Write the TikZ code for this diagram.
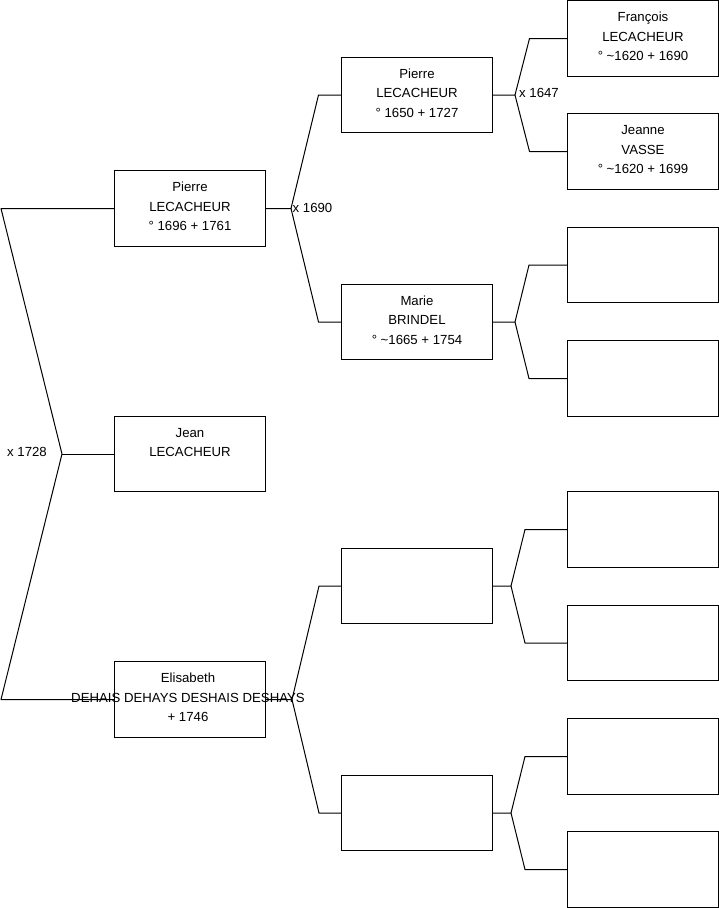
\documentclass[tikz,border=0pt]{standalone}
\usepackage{fontspec}
\setmainfont{Liberation Sans}
\begin{document}
\begin{tikzpicture}[x=1pt,y=-1pt,
  box/.style={draw=black, line width=1pt, minimum width=151pt, minimum height=75.5pt, inner sep=0pt, anchor=west},
  txt/.style={anchor=north, inner sep=0pt, align=center, font=\fontsize{13.2}{19.5}\selectfont},
  link/.style={draw=black, line width=1pt, line join=round},
  lbl/.style={inner sep=0pt, font=\fontsize{13.2}{19.5}\selectfont}]
\useasboundingbox (0,0) rectangle (719,908);
% column 1
\node[box] (P1) at (114,208.5) {};
\node[box] (J) at (114,454) {};
\node[box] (E) at (114,699.5) {};
% column 2
\node[box] (P2) at (341,95) {};
\node[box] (M) at (341,322) {};
\node[box] (B1) at (341,586) {};
\node[box] (B2) at (341,813) {};
% column 3
\node[box] (F) at (567,38.5) {};
\node[box] (JV) at (567,151.5) {};
\node[box] (C3) at (567,265) {};
\node[box] (C4) at (567,378.5) {};
\node[box] (C5) at (567,529.5) {};
\node[box] (C6) at (567,643) {};
\node[box] (C7) at (567,756.5) {};
\node[box] (C8) at (567,869.5) {};
% texts
\node[txt] (tP1) at ([yshift=-7.6pt]P1.north) {\strut Pierre\\LECACHEUR\\° 1696 + 1761};
\node[txt] (tJ) at ([yshift=-7.6pt]J.north) {\strut Jean\\LECACHEUR};
\node[txt] (tE) at ([xshift=-2pt,yshift=-7.6pt]E.north) {\strut Elisabeth\\DEHAIS DEHAYS DESHAIS DESHAYS\\+ 1746};
\node[txt] (tP2) at ([yshift=-7.6pt]P2.north) {\strut Pierre\\LECACHEUR\\° 1650 + 1727};
\node[txt] (tM) at ([yshift=-7.6pt]M.north) {\strut Marie\\BRINDEL\\° \textasciitilde1665 + 1754};
\node[txt] (tF) at ([yshift=-7.6pt]F.north) {\strut François\\LECACHEUR\\° \textasciitilde1620 + 1690};
\node[txt] (tJV) at ([yshift=-7.6pt]JV.north) {\strut Jeanne\\VASSE\\° \textasciitilde1620 + 1699};
% fork points
\coordinate (v0) at (62,454);
\coordinate (r1) at (1,208.5);
\coordinate (r2) at (1,699.5);
\coordinate (v1) at (291,208.5);
\coordinate (a1) at (318.5,95);
\coordinate (b1) at (318.5,322);
\coordinate (v2) at (292,699.5);
\coordinate (a2) at (319,586);
\coordinate (b2) at (319,813);
\coordinate (v3) at (515,95);
\coordinate (a3) at (529.5,38.5);
\coordinate (b3) at (529.5,151.5);
\coordinate (v4) at (515,322);
\coordinate (a4) at (529,265);
\coordinate (b4) at (529,378.5);
\coordinate (v5) at (511,586);
\coordinate (a5) at (525,529.5);
\coordinate (b5) at (525,643);
\coordinate (v6) at (511,813);
\coordinate (a6) at (525,756.5);
\coordinate (b6) at (525,869.5);
% connectors
\draw[link] (P1.west) -- (r1) -- (v0) -- (r2) -- (E.west);
\draw[link] (v0) -- (J.west);
\draw[link] (P1.east) -- (v1) -- (a1) -- (P2.west);
\draw[link] (v1) -- (b1) -- (M.west);
\draw[link] (E.east) -- (v2) -- (a2) -- (B1.west);
\draw[link] (v2) -- (b2) -- (B2.west);
\draw[link] (P2.east) -- (v3) -- (a3) -- (F.west);
\draw[link] (v3) -- (b3) -- (JV.west);
\draw[link] (M.east) -- (v4) -- (a4) -- (C3.west);
\draw[link] (v4) -- (b4) -- (C4.west);
\draw[link] (B1.east) -- (v5) -- (a5) -- (C5.west);
\draw[link] (v5) -- (b5) -- (C6.west);
\draw[link] (B2.east) -- (v6) -- (a6) -- (C7.west);
\draw[link] (v6) -- (b6) -- (C8.west);
% marriage labels
\node[lbl] (m1728) at (27,452) {x 1728};
\node[lbl, anchor=west] (m1690) at (292.5,207.5) {x 1690};
\node[lbl, anchor=west] (m1647) at (519,93) {x 1647};
\end{tikzpicture}
\end{document}
